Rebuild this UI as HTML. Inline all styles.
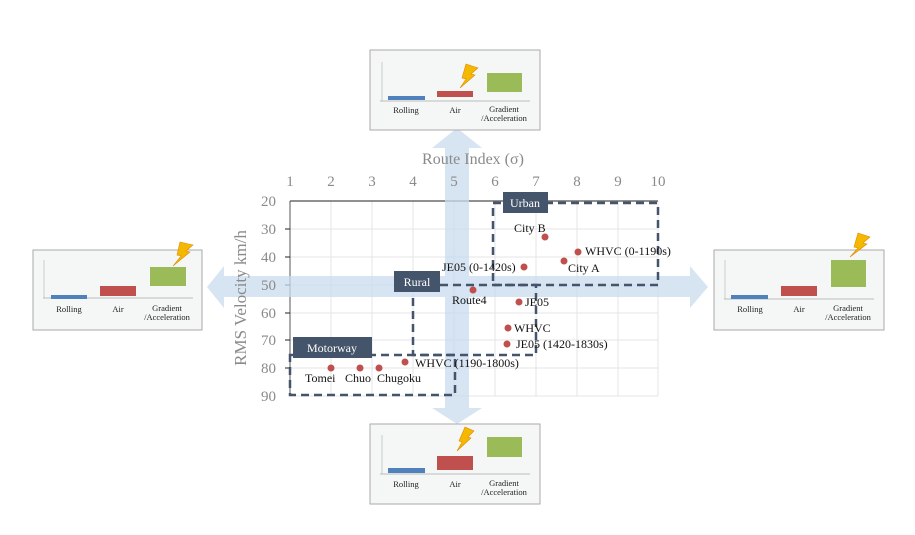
<!DOCTYPE html>
<html><head><meta charset="utf-8"><style>
html,body{margin:0;padding:0;background:#fff;}
svg{display:block;font-family:"Liberation Serif",serif;}
</style></head><body>
<svg width="915" height="535" viewBox="0 0 915 535" xmlns="http://www.w3.org/2000/svg">
<rect width="915" height="535" fill="#fff"/>
<!-- grid -->
<g stroke="#e4e4e4" stroke-width="1">
<line x1="331" y1="201" x2="331" y2="396"/><line x1="372" y1="201" x2="372" y2="396"/><line x1="413" y1="201" x2="413" y2="396"/><line x1="454" y1="201" x2="454" y2="396"/><line x1="495" y1="201" x2="495" y2="396"/><line x1="536" y1="201" x2="536" y2="396"/><line x1="577" y1="201" x2="577" y2="396"/><line x1="618" y1="201" x2="618" y2="396"/><line x1="658" y1="201" x2="658" y2="396"/>
<line x1="290" y1="229" x2="658" y2="229"/><line x1="290" y1="257" x2="658" y2="257"/><line x1="290" y1="285" x2="658" y2="285"/><line x1="290" y1="313" x2="658" y2="313"/><line x1="290" y1="340" x2="658" y2="340"/><line x1="290" y1="368" x2="658" y2="368"/><line x1="290" y1="396" x2="658" y2="396"/>
</g>
<line x1="290" y1="201" x2="658" y2="201" stroke="#222" stroke-width="1"/>
<line x1="290" y1="201" x2="290" y2="396" stroke="#555" stroke-width="1"/>
<g stroke="#222"><line x1="285" y1="229" x2="290" y2="229"/><line x1="285" y1="257" x2="290" y2="257"/><line x1="285" y1="285" x2="290" y2="285"/><line x1="285" y1="313" x2="290" y2="313"/><line x1="285" y1="340" x2="290" y2="340"/><line x1="285" y1="368" x2="290" y2="368"/></g>
<!-- arrows -->
<g fill="#c9dcef" opacity="0.75">
<polygon points="445,148 432,148 457,128 482,148 469,148 469,408 482,408 457,424 432,408 445,408"/>
<polygon points="224,276 224,266 207,287 224,308 224,297 690,297 690,308 708,287 690,266 690,276"/>
</g>
<!-- axis labels -->
<g fill="#8a8a8a" font-size="15" text-anchor="middle">
<text x="290" y="186">1</text><text x="331" y="186">2</text><text x="372" y="186">3</text><text x="413" y="186">4</text><text x="454" y="186">5</text><text x="495" y="186">6</text><text x="536" y="186">7</text><text x="577" y="186">8</text><text x="618" y="186">9</text><text x="658" y="186">10</text>
<text x="473" y="164" font-size="16">Route Index (σ)</text>
</g>
<g fill="#8a8a8a" font-size="15" text-anchor="end">
<text x="276" y="206">20</text><text x="276" y="234">30</text><text x="276" y="262">40</text><text x="276" y="290">50</text><text x="276" y="318">60</text><text x="276" y="345">70</text><text x="276" y="373">80</text><text x="276" y="401">90</text>
</g>
<text transform="translate(246,298) rotate(-90)" fill="#8a8a8a" font-size="17" text-anchor="middle">RMS Velocity   km/h</text>
<!-- dashed regions -->
<g fill="none" stroke="#44546a" stroke-width="2.5" stroke-dasharray="8,5">
<rect x="493" y="203" width="165" height="82"/>
<polyline points="440,285 536,285 536,355 413,355 413,298"/>
<rect x="290" y="355" width="165" height="40"/>
</g>
<g fill="#44546a">
<rect x="503" y="192" width="45" height="21"/>
<rect x="394" y="271" width="46" height="21"/>
<rect x="293" y="337" width="79" height="21"/>
</g>
<g fill="#fff" font-size="12" text-anchor="middle">
<text x="525" y="207">Urban</text><text x="417" y="286">Rural</text><text x="332" y="352">Motorway</text>
</g>
<!-- points -->
<g fill="#c0504d">
<circle cx="545" cy="237" r="3.5"/><circle cx="578" cy="252" r="3.5"/><circle cx="564" cy="261" r="3.5"/><circle cx="524" cy="267" r="3.5"/><circle cx="473" cy="290" r="3.5"/><circle cx="519" cy="302" r="3.5"/><circle cx="508" cy="328" r="3.5"/><circle cx="507" cy="344" r="3.5"/><circle cx="405" cy="362" r="3.5"/><circle cx="331" cy="368" r="3.5"/><circle cx="360" cy="368" r="3.5"/><circle cx="379" cy="368" r="3.5"/>
</g>
<g fill="#111" font-size="12">
<text x="514" y="232">City B</text>
<text x="585" y="255">WHVC (0-1190s)</text>
<text x="568" y="272">City A</text>
<text x="442" y="271">JE05 (0-1420s)</text>
<text x="452" y="304">Route4</text>
<text x="525" y="306">JE05</text>
<text x="514" y="332">WHVC</text>
<text x="516" y="348">JE05 (1420-1830s)</text>
<text x="415" y="367">WHVC (1190-1800s)</text>
<text x="305" y="382">Tomei</text>
<text x="345" y="382">Chuo</text>
<text x="377" y="382">Chugoku</text>
</g>
<!-- panels -->
<g font-size="8.5" fill="#222" text-anchor="middle">
<rect x="370" y="50" width="170" height="80" fill="#f5f7f7" stroke="#aaa"/>
<line x1="382" y1="62" x2="382" y2="101" stroke="#ccc"/><line x1="380" y1="101" x2="530" y2="101" stroke="#bbb"/>
<rect x="388" y="96" width="37" height="4" fill="#4f81bd"/><rect x="437" y="91" width="36" height="6" fill="#c0504d"/><rect x="487" y="73" width="35" height="19" fill="#9bbb59"/>
<polygon points="466,64 478,68 471,74 475,75 460,88 466,79 462,78" fill="#f5b800" stroke="#e08a00" stroke-width="0.6"/>
<text x="406" y="113">Rolling</text><text x="455" y="113">Air</text><text x="504" y="112">Gradient</text><text x="504" y="121">/Acceleration</text>
<rect x="33" y="250" width="169" height="80" fill="#f5f7f7" stroke="#aaa"/>
<line x1="44" y1="260" x2="44" y2="298" stroke="#ccc"/><line x1="43" y1="298" x2="193" y2="298" stroke="#bbb"/>
<rect x="51" y="295" width="36" height="4" fill="#4f81bd"/><rect x="100" y="286" width="36" height="10" fill="#c0504d"/><rect x="150" y="267" width="36" height="19" fill="#9bbb59"/>
<polygon points="180,242 193,245 186,251 190,252 173,266 181,256 177,255" fill="#f5b800" stroke="#e08a00" stroke-width="0.6"/>
<text x="69" y="312">Rolling</text><text x="118" y="312">Air</text><text x="167" y="311">Gradient</text><text x="167" y="320">/Acceleration</text>
<rect x="714" y="250" width="170" height="80" fill="#f5f7f7" stroke="#aaa"/>
<line x1="725" y1="260" x2="725" y2="299" stroke="#ccc"/><line x1="724" y1="299" x2="874" y2="299" stroke="#bbb"/>
<rect x="731" y="295" width="37" height="4" fill="#4f81bd"/><rect x="781" y="286" width="36" height="10" fill="#c0504d"/><rect x="831" y="260" width="35" height="27" fill="#9bbb59"/>
<polygon points="858,233 870,237 863,243 867,244 850,257 858,248 854,247" fill="#f5b800" stroke="#e08a00" stroke-width="0.6"/>
<text x="750" y="312">Rolling</text><text x="799" y="312">Air</text><text x="848" y="311">Gradient</text><text x="848" y="320">/Acceleration</text>
<rect x="370" y="424" width="170" height="80" fill="#f5f7f7" stroke="#aaa"/>
<line x1="382" y1="435" x2="382" y2="474" stroke="#ccc"/><line x1="380" y1="474" x2="530" y2="474" stroke="#bbb"/>
<rect x="388" y="468" width="37" height="5" fill="#4f81bd"/><rect x="437" y="456" width="36" height="14" fill="#c0504d"/><rect x="487" y="437" width="35" height="20" fill="#9bbb59"/>
<polygon points="465,427 474,431 468,437 471,438 457,451 462,442 459,441" fill="#f5b800" stroke="#e08a00" stroke-width="0.6"/>
<text x="406" y="487">Rolling</text><text x="455" y="487">Air</text><text x="504" y="486">Gradient</text><text x="504" y="495">/Acceleration</text>
</g>
</svg>
</body></html>
